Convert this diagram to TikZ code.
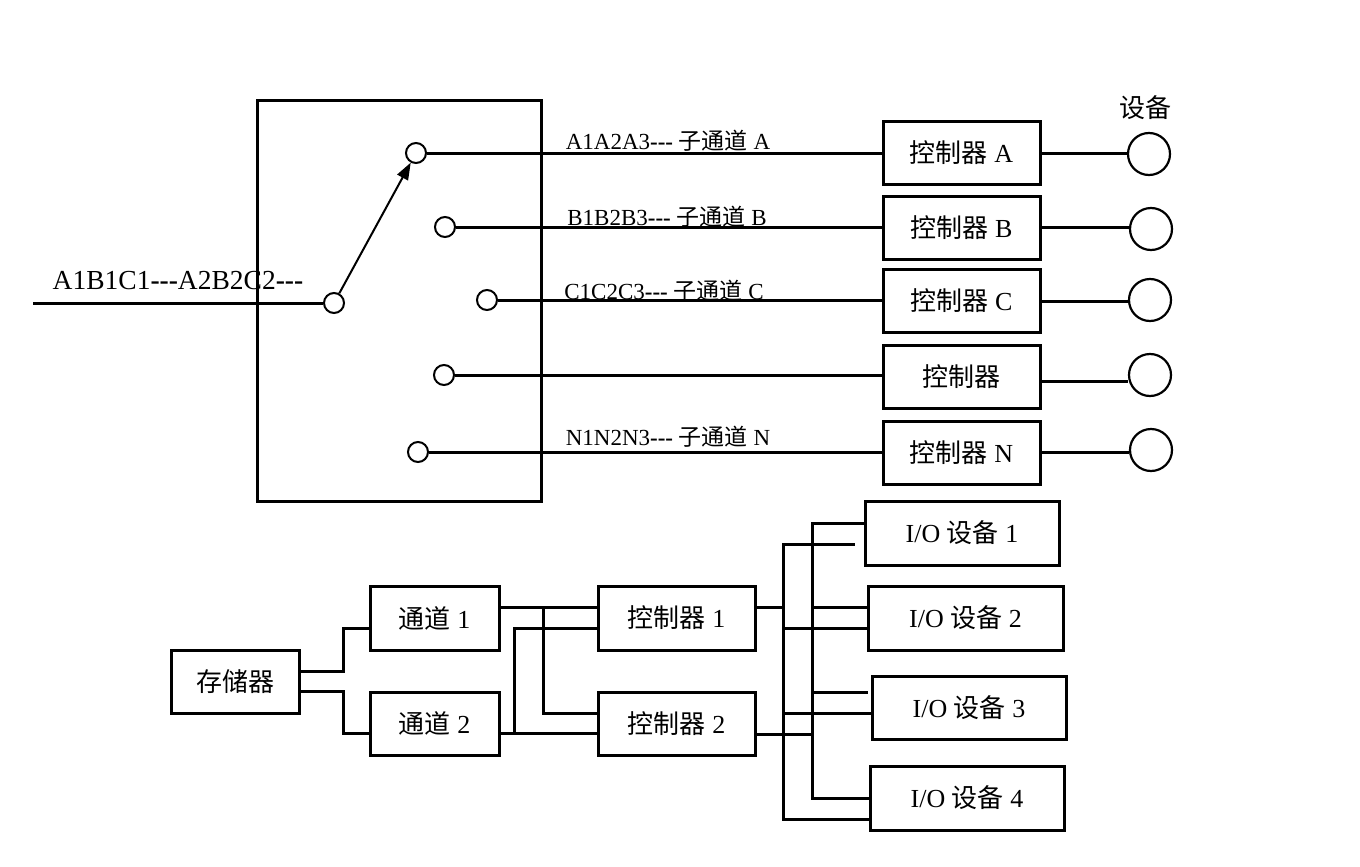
\documentclass[tikz,border=0pt]{standalone}
\usepackage{fontspec}
\setmainfont{Liberation Serif}
\newfontfamily\cjk{Noto Sans CJK SC}
\usepackage{tikz}
\usetikzlibrary{calc,arrows.meta}
\newcommand{\dsh}{\textbf{-{}-{}-}}

\begin{document}
\begin{tikzpicture}[x=1pt, y=-1pt, line width=3pt,
	blk/.style={draw, line width=3pt, inner sep=0pt, font=\fontsize{26}{30}\selectfont},
	pin/.style={draw, circle, line width=2pt, minimum size=20pt, inner sep=0pt},
	dev/.style={draw, circle, line width=2.2pt, minimum size=42pt, inner sep=0pt},
	lbl/.style={inner sep=0pt, font=\fontsize{23}{26}\selectfont}]
		\useasboundingbox (0,0) rectangle (1360,867);
		%%%%% START %%%%%
		% switch box
		\node[draw, line width=3pt, minimum width=284pt, minimum height=401pt] (swbox) at (399,300.5) {};
		\node[pin] (cin) at (334,303) {};
		\node[pin] (ca) at (416,153) {};
		\node[pin] (cb) at (445,227) {};
		\node[pin] (cc) at (487,300) {};
		\node[pin] (cd) at (444,375) {};
		\node[pin] (cn) at (418,452) {};
		\coordinate (in) at (33,303);
		\node[inner sep=0pt, font=\fontsize{27.5}{30}\selectfont] (inlbl) at (178,281) {A1B1C1\dsh A2B2C2\dsh};
		\draw (in) -- (cin);
		\draw[line width=2pt, -{Triangle[length=17pt, width=12pt]}] (cin) -- (ca);
		
		% controllers
		\node[blk, minimum width=157pt, minimum height=63pt] (ctA) at (961.5,153) {{\cjk 控制器} A};
		\node[blk, minimum width=157pt, minimum height=63pt] (ctB) at (961.5,227.5) {{\cjk 控制器} B};
		\node[blk, minimum width=157pt, minimum height=63pt] (ctC) at (961.5,301) {{\cjk 控制器} C};
		\node[blk, minimum width=157pt, minimum height=63pt] (ctD) at (961.5,377) {\cjk 控制器};
		\node[blk, minimum width=157pt, minimum height=63pt] (ctN) at (961.5,452.5) {{\cjk 控制器} N};
		
		\node[dev] (dA) at (1149,154) {};
		\node[dev] (dB) at (1151,229) {};
		\node[dev] (dC) at (1150,300) {};
		\node[dev] (dD) at (1150,375) {};
		\node[dev] (dN) at (1151,450) {};
		\node[inner sep=0pt, font=\fontsize{26}{30}\selectfont\cjk] (devlbl) at (1145,108) {设备};
		
		\draw (ca) -- (ca -| ctA.west);
		\draw (cb) -- (cb -| ctB.west);
		\draw (cc) -- (cc -| ctC.west);
		\draw (cd) -- (cd -| ctD.west);
		\draw (cn) -- (cn -| ctN.west);
		\draw (ctA.east) -- (ctA.east -| dA.west);
		\draw (ctB.east) -- (ctB.east -| dB.west);
		\draw (ctC.east) -- (ctC.east -| dC.west);
		\draw ($(ctD.east)+(0,4)$) -- ($(ctD.east -| dD.west)+(0,4)$);
		\draw (ctN.east) -- (ctN.east -| dN.west);
		
		\node[lbl] (la) at (668,141) {A1A2A3\dsh{} {\cjk 子通道} A};
		\node[lbl] (lb) at (667,217) {B1B2B3\dsh{} {\cjk 子通道} B};
		\node[lbl] (lc) at (664,291) {C1C2C3\dsh{} {\cjk 子通道} C};
		\node[lbl] (ln) at (668,437) {N1N2N3\dsh{} {\cjk 子通道} N};
		
		% storage, channels, controllers, devices
		\node[blk, minimum width=128pt, minimum height=63pt] (mem) at (235,681.5) {\cjk 存储器};
		\node[blk, minimum width=129pt, minimum height=64pt] (ch1) at (434.5,618) {{\cjk 通道} 1};
		\node[blk, minimum width=129pt, minimum height=63pt] (ch2) at (434.5,723.5) {{\cjk 通道} 2};
		\node[blk, minimum width=157pt, minimum height=64pt] (k1) at (676.5,618) {{\cjk 控制器} 1};
		\node[blk, minimum width=157pt, minimum height=63pt] (k2) at (676.5,723.5) {{\cjk 控制器} 2};
		\node[blk, minimum width=194pt, minimum height=64pt] (io1) at (962,533) {I/O {\cjk 设备} 1};
		\node[blk, minimum width=195pt, minimum height=64pt] (io2) at (965.5,618) {I/O {\cjk 设备} 2};
		\node[blk, minimum width=194pt, minimum height=63pt] (io3) at (969,707.5) {I/O {\cjk 设备} 3};
		\node[blk, minimum width=194pt, minimum height=64pt] (io4) at (967,798) {I/O {\cjk 设备} 4};
		
		\draw ($(mem.east)+(0,-10)$) -- ++(43,0) |- ($(ch1.west)+(0,10)$);
		\draw ($(mem.east)+(0,10)$) -- ++(43,0) |- ($(ch2.west)+(0,10)$);
		
		\draw ($(ch1.east)+(0,-11)$) -- ($(k1.west)+(0,-11)$);
		\draw ($(ch1.east)+(43,-11)$) |- ($(k2.west)+(0,-10)$);
		\draw ($(ch2.east)+(0,10)$) -- ($(k2.west)+(0,10)$);
		\draw ($(ch2.east)+(14,10)$) |- ($(k1.west)+(0,10)$);
		
		\coordinate (bus1) at (783,607);
		\coordinate (bus2) at (812,734);
		\draw ($(k1.east)+(0,-11)$) -- (bus1);
		\draw ($(io1.west)+(-9,11)$) -| (bus1) |- ($(io4.west)+(0,21)$);
		\draw ($(bus1 |- io2.west)+(0,10)$) -- ($(io2.west)+(0,10)$);
		\draw ($(bus1 |- io3.west)+(0,5.5)$) -- ($(io3.west)+(0,5.5)$);
		\draw ($(k2.east)+(0,10.5)$) -- (bus2);
		\draw ($(io1.west)+(3,-10)$) -| (bus2) |- (io4.west);
		\draw ($(bus2 |- io2.west)+(0,-11)$) -- ($(io2.west)+(0,-11)$);
		\draw ($(bus2 |- io3.west)+(0,-15.5)$) -- ($(io3.west)+(-3,-15.5)$);
		%%%%% END %%%%%
\end{tikzpicture}
\end{document}
